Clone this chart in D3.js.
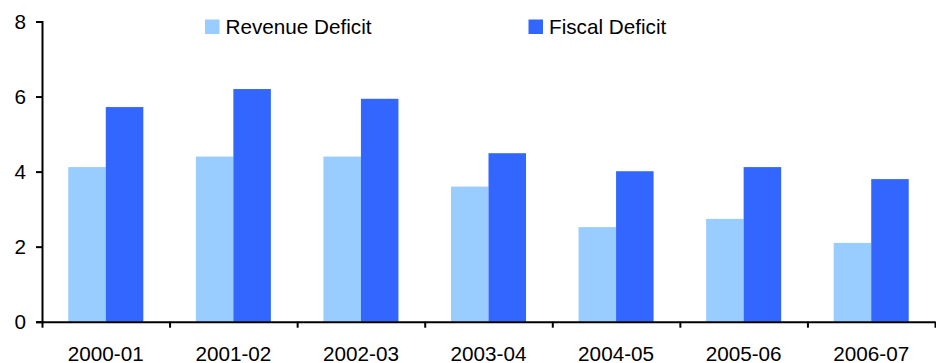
<!DOCTYPE html>
<html>
<head>
<meta charset="utf-8">
<script src="https://cdn.jsdelivr.net/npm/d3@7"></script>
<style>
  html, body { margin: 0; padding: 0; background: #fff; }
  svg { display: block; }
  text { font-family: "Liberation Sans", Arial, sans-serif; fill: #000; }
</style>
</head>
<body>
<svg id="chart" width="936" height="363"></svg>
<script>
// Deficits as a share of GDP (%), by fiscal year
const categories = ["2000-01", "2001-02", "2002-03", "2003-04", "2004-05", "2005-06", "2006-07"];
const seriesNames = ["Revenue Deficit", "Fiscal Deficit"];
const revenueDeficit = [4.12, 4.4, 4.4, 3.6, 2.52, 2.74, 2.1];
const fiscalDeficit = [5.72, 6.2, 5.94, 4.49, 4.01, 4.12, 3.8];
const yTicks = [0, 2, 4, 6, 8];
const colors = ["#99CCFF", "#3366FF"];

const svg = d3.select("#chart");
const plotLeft = 42, plotRight = 935, plotTop = 21.5, plotBottom = 321.7;
const fontSize = 20.7;

const x = d3.scaleBand().domain(categories).range([plotLeft, plotRight]).padding(0);
const xs = d3.scaleBand().domain(seriesNames).range([0, x.bandwidth()]).paddingInner(0).paddingOuter(0.7);
const y = d3.scaleLinear().domain([0, 8]).range([plotBottom, plotTop]);

const rows = categories.map((c, i) => ({ cat: c, values: [revenueDeficit[i], fiscalDeficit[i]] }));

// bars
const groups = svg.append("g").selectAll("g").data(rows).join("g")
  .attr("transform", d => `translate(${x(d.cat)},0)`);
groups.selectAll("rect")
  .data(d => d.values.map((v, k) => ({ name: seriesNames[k], v, k })))
  .join("rect")
  .attr("x", d => xs(d.name))
  .attr("width", xs.bandwidth())
  .attr("y", d => y(d.v))
  .attr("height", d => y(0) - y(d.v))
  .attr("fill", d => colors[d.k]);

// y axis
const yAxis = svg.append("g").attr("transform", `translate(${plotLeft},0)`)
  .call(d3.axisLeft(y).tickValues(yTicks).tickFormat(d3.format("d")).tickSize(6).tickSizeOuter(6).tickPadding(10));
yAxis.selectAll("text").style("font-size", fontSize + "px").attr("fill", "#000");

// x axis: tick marks at band boundaries, labels centred in bands
const xi = d3.scaleLinear().domain([0, categories.length]).range([plotLeft, plotRight]);
svg.append("g").attr("transform", `translate(0,${plotBottom})`)
  .call(d3.axisBottom(xi).tickValues(d3.range(categories.length + 1)).tickFormat("").tickSize(6).tickSizeOuter(0));
const xLabels = svg.append("g").attr("transform", `translate(0,${plotBottom})`)
  .call(d3.axisBottom(x).tickSize(0).tickPadding(25));
xLabels.select(".domain").remove();
xLabels.selectAll("text").style("font-size", fontSize + "px").attr("fill", "#000");

svg.selectAll(".domain, .tick line").attr("stroke", "#000").attr("stroke-width", 2);

// legend
const legendX = [205, 528.5];
const legend = svg.append("g").selectAll("g").data(seriesNames).join("g")
  .attr("transform", (d, i) => `translate(${legendX[i]},19.5)`);
legend.append("rect").attr("width", 14.5).attr("height", 14.5).attr("fill", (d, i) => colors[i]);
legend.append("text").attr("x", 20.5).attr("y", 14.5)
  .style("font-size", fontSize + "px").text(d => d);
</script>
</body>
</html>
